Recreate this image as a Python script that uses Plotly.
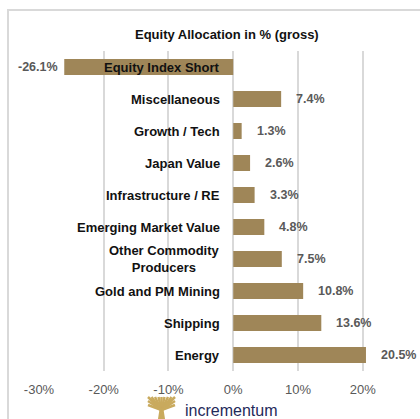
import plotly.graph_objects as go

categories = ["Equity Index Short", "Miscellaneous", "Growth / Tech", "Japan Value",
              "Infrastructure / RE", "Emerging Market Value", "Other Commodity<br>Producers",
              "Gold and PM Mining", "Shipping", "Energy"]
values = [-26.1, 7.4, 1.3, 2.6, 3.3, 4.8, 7.5, 10.8, 13.6, 20.5]
value_labels = ["-26.1%", "7.4%", "1.3%", "2.6%", "3.3%", "4.8%", "7.5%", "10.8%", "13.6%", "20.5%"]
tick_vals = [-30, -20, -10, 0, 10, 20]
tick_text = ["-30%", "-20%", "-10%", "0%", "10%", "20%"]
title = "Equity Allocation in % (gross)"

W, H = 420, 419
ML, MR, MT, MB = 39, 10, 51, 48
PW, PH = W - ML - MR, H - MT - MB
FONT = "Arial, Liberation Sans, sans-serif"
BAR = "#9f8658"
GRID = "#d9d9d9"

def px(x):
    return (x - ML) / PW

def py(y):
    return (H - MB - y) / PH

fig = go.Figure()
fig.add_trace(go.Bar(
    x=values, y=list(range(len(categories))), orientation="h",
    marker=dict(color=BAR, line=dict(width=0)), width=0.5,
    hoverinfo="skip",
))

ann = []
for i, (c, v, lab) in enumerate(zip(categories, values, value_labels)):
    ann.append(dict(x=0, y=i, xref="x", yref="y", text="<b>%s</b>" % c, showarrow=False,
                    xanchor="right", yanchor="middle", xshift=-11, align="center",
                    font=dict(family=FONT, size=13, color="#111111")))
    if v >= 0:
        ann.append(dict(x=v, y=i, xref="x", yref="y", text="<b>%s</b>" % lab, showarrow=False,
                        xanchor="left", yanchor="middle", xshift=13,
                        font=dict(family=FONT, size=12.5, color="#595959")))
    else:
        ann.append(dict(x=v, y=i, xref="x", yref="y", text="<b>%s</b>" % lab, showarrow=False,
                        xanchor="right", yanchor="middle", xshift=-4,
                        font=dict(family=FONT, size=12.5, color="#595959")))

ann.append(dict(x=px(227), y=py(35), xref="paper", yref="paper", text="<b>%s</b>" % title,
                showarrow=False, xanchor="center", yanchor="middle",
                font=dict(family=FONT, size=13, color="#111111")))
ann.append(dict(x=px(183), y=py(410), xref="paper", yref="paper", text="incrementum",
                showarrow=False, xanchor="left", yanchor="middle",
                font=dict(family=FONT, size=16, color="#1f2a5a")))

shapes = []
# outer frame
shapes.append(dict(type="rect", xref="paper", yref="paper", x0=px(8), y0=py(10), x1=px(460), y1=py(460),
                   line=dict(color=GRID, width=2), fillcolor="rgba(0,0,0,0)", layer="below"))
# logo icon
GOLD = "#c9aa5e"
cx, base = 161.5, 419
shapes.append(dict(type="path", xref="paper", yref="paper",
                   path="M %f %f L %f %f L %f %f L %f %f Z" % (px(158), py(base), px(160), py(406),
                                                              px(163), py(406), px(165), py(base)),
                   fillcolor=GOLD, line=dict(width=0)))
for ex, ey in [(148, 397), (151.5, 397), (155, 397), (158.5, 397), (161.5, 397), (164.5, 397),
               (168, 397), (171.5, 397), (175, 397), (148, 401), (175, 401), (148, 405), (175, 405)]:
    shapes.append(dict(type="line", xref="paper", yref="paper",
                       x0=px(cx), y0=py(410), x1=px(ex), y1=py(ey),
                       line=dict(color=GOLD, width=2.5)))

fig.update_layout(
    width=W, height=H,
    margin=dict(l=ML, r=MR, t=MT, b=MB),
    paper_bgcolor="white", plot_bgcolor="white",
    showlegend=False,
    bargap=0.5,
    xaxis=dict(range=[-30, 27.3], tickvals=tick_vals, ticktext=tick_text,
               showgrid=True, gridcolor=GRID, gridwidth=2,
               zeroline=True, zerolinecolor=GRID, zerolinewidth=2,
               showline=False, ticks="", ticklabelstandoff=9,
               tickfont=dict(family=FONT, size=13, color="#595959"), fixedrange=True),
    yaxis=dict(range=[9.5, -0.5], showticklabels=False, showgrid=False, zeroline=False,
               showline=False, ticks="", fixedrange=True),
    annotations=ann, shapes=shapes,
)

fig.write_html("out.html", config={"displayModeBar": False},
               post_script="document.body.style.margin='0';document.body.style.overflow='hidden';")
